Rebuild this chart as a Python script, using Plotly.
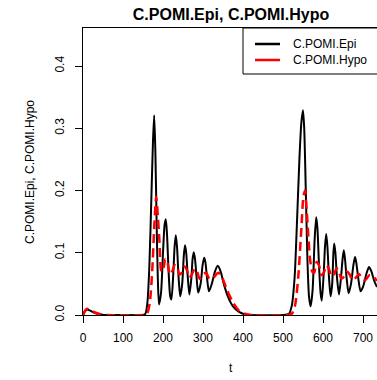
import plotly.graph_objects as go

# ---- data ----
t_epi = [0, 5, 10, 18, 30, 45, 60, 100, 150, 156, 161, 166, 171, 175, 178, 181, 184, 187, 190,
         195, 200, 204, 207, 210, 214, 218, 221, 226, 229, 232, 235, 239, 243, 248, 252, 255,
         258, 262, 266, 271, 274, 277, 280, 284, 288, 294, 299, 303, 306, 310, 315, 322, 330,
         337, 344, 352, 362, 375, 390, 405, 420, 500, 515, 522, 529, 535, 541, 546, 550, 553,
         557, 561, 565, 569, 574, 579, 583, 586, 590, 594, 597, 602, 605, 608, 611, 615, 619,
         623, 626, 628, 631, 635, 640, 645, 649, 652, 655, 659, 664, 670, 676, 680, 683, 688,
         694, 700, 708, 715, 721, 728, 735]
y_epi = [0.0, 0.006, 0.009, 0.007, 0.003, 0.001, 0.0, 0.0, 0.0, 0.002, 0.02, 0.08, 0.19, 0.28,
         0.321, 0.26, 0.15, 0.06, 0.017, 0.035, 0.10, 0.145, 0.154, 0.13, 0.07, 0.03, 0.025,
         0.07, 0.11, 0.128, 0.11, 0.06, 0.03, 0.05, 0.095, 0.112, 0.10, 0.06, 0.033, 0.06, 0.09,
         0.101, 0.09, 0.06, 0.036, 0.05, 0.08, 0.092, 0.085, 0.06, 0.038, 0.05, 0.07, 0.079,
         0.07, 0.05, 0.03, 0.014, 0.005, 0.001, 0.0, 0.0, 0.002, 0.015, 0.06, 0.15, 0.25, 0.31,
         0.329, 0.30, 0.20, 0.09, 0.03, 0.014, 0.04, 0.12, 0.157, 0.14, 0.08, 0.035, 0.023,
         0.07, 0.11, 0.130, 0.11, 0.06, 0.03, 0.05, 0.10, 0.115, 0.10, 0.06, 0.033, 0.06, 0.09,
         0.104, 0.09, 0.06, 0.035, 0.05, 0.08, 0.093, 0.085, 0.06, 0.038, 0.045, 0.065, 0.077,
         0.07, 0.055, 0.045]

t_hypo = [0, 5, 10, 18, 30, 45, 60, 150, 160, 167, 173, 178, 183, 187, 191, 196, 201, 206, 211,
          217, 223, 229, 235, 241, 247, 254, 260, 266, 272, 279, 285, 292, 300, 308, 316, 326,
          338, 348, 360, 375, 390, 405, 420, 510, 522, 530, 538, 546, 551, 555, 559, 564, 568,
          573, 578, 584, 590, 596, 602, 609, 615, 621, 628, 634, 640, 646, 653, 660, 666, 674,
          682, 690, 698, 706, 716, 725, 735]
y_hypo = [0.0, 0.007, 0.010, 0.008, 0.004, 0.001, 0.0, 0.0, 0.002, 0.02, 0.07, 0.14, 0.19,
          0.16, 0.12, 0.07, 0.075, 0.09, 0.085, 0.065, 0.07, 0.08, 0.078, 0.065, 0.068, 0.078,
          0.072, 0.06, 0.065, 0.074, 0.07, 0.058, 0.065, 0.068, 0.058, 0.06, 0.068, 0.06, 0.04,
          0.02, 0.007, 0.002, 0.0, 0.0, 0.002, 0.015, 0.06, 0.14, 0.19, 0.20, 0.17, 0.12,
          0.088, 0.07, 0.068, 0.085, 0.08, 0.064, 0.068, 0.08, 0.074, 0.062, 0.066, 0.075,
          0.07, 0.058, 0.062, 0.07, 0.066, 0.056, 0.06, 0.066, 0.058, 0.056, 0.064, 0.062,
          0.055]

x_ticks = [0, 100, 200, 300, 400, 500, 600, 700]
y_ticks = [0.0, 0.1, 0.2, 0.3, 0.4]
y_tick_labels = ["0.0", "0.1", "0.2", "0.3", "0.4"]
series_names = ["C.POMI.Epi", "C.POMI.Hypo"]
title_text = "C.POMI.Epi, C.POMI.Hypo"

# ---- layout geometry (pixels) ----
W, H = 377, 380
L, R, T, B = 83, 377, 28, 315
FONT = "Liberation Sans, Arial, Helvetica, sans-serif"


def px(xp):
    return (xp - L) / (R - L)


def py(yp):
    return (B - yp) / (B - T)


fig = go.Figure()
fig.add_trace(go.Scatter(x=t_epi, y=y_epi, mode="lines", name=series_names[0],
                         line=dict(color="black", width=2, shape="spline", smoothing=0.7),
                         showlegend=False))
fig.add_trace(go.Scatter(x=t_hypo, y=y_hypo, mode="lines", name=series_names[1],
                         line=dict(color="#ff0000", width=2.5, dash="9px,5px",
                                   shape="spline", smoothing=0.7),
                         showlegend=False))

fig.update_layout(
    width=W, height=H,
    margin=dict(l=L, r=W - R, t=T, b=H - B, pad=0),
    paper_bgcolor="white", plot_bgcolor="white",
    font=dict(family=FONT, size=12, color="black"),
    showlegend=False,
    title=dict(text="<b>" + title_text + "</b>", x=231 / W, xanchor="center",
               y=1 - 14 / H, yanchor="middle", yref="container",
               font=dict(size=16, family=FONT, color="black")),
    xaxis=dict(range=[0, (R - L) / 0.4], showgrid=False, zeroline=False,
               showline=True, linecolor="black", linewidth=1, mirror=True,
               ticks="outside", ticklen=7, tickcolor="black", tickwidth=1,
               tickvals=x_ticks, ticktext=[str(v) for v in x_ticks],
               ticklabelstandoff=5,
               tickfont=dict(size=12, family=FONT, color="black")),
    yaxis=dict(range=[0, (B - T) / 622.5], showgrid=False, zeroline=False,
               showline=True, linecolor="black", linewidth=1, mirror=False,
               ticks="outside", ticklen=7, tickcolor="black", tickwidth=1,
               tickvals=y_ticks, ticktext=y_tick_labels, tickangle=-90,
               ticklabelstandoff=6,
               tickfont=dict(size=12, family=FONT, color="black")),
)

# axis titles
fig.add_annotation(text="t", xref="paper", yref="paper", x=px(231), y=py(368),
                   showarrow=False, xanchor="center", yanchor="middle",
                   font=dict(size=12, family=FONT, color="black"))
fig.add_annotation(text=title_text, xref="paper", yref="paper", x=px(30), y=py(172),
                   showarrow=False, xanchor="center", yanchor="middle", textangle=-90,
                   font=dict(size=12, family=FONT, color="black"))

# legend box (R-style)
fig.add_shape(type="rect", xref="paper", yref="paper", x0=px(243), x1=px(390),
              y0=py(74), y1=py(28), line=dict(color="black", width=1), fillcolor="white",
              layer="above")
leg_colors = ["black", "#ff0000"]
leg_y = [44, 60]
for name, col, yy in zip(series_names, leg_colors, leg_y):
    fig.add_shape(type="line", xref="paper", yref="paper", x0=px(255), x1=px(280),
                  y0=py(yy), y1=py(yy), line=dict(color=col, width=2.5), layer="above")
    fig.add_annotation(text=name, xref="paper", yref="paper", x=px(291), y=py(yy),
                       showarrow=False, xanchor="left", yanchor="middle",
                       font=dict(size=12, family=FONT, color="black"))

fig.write_html("out.html")
